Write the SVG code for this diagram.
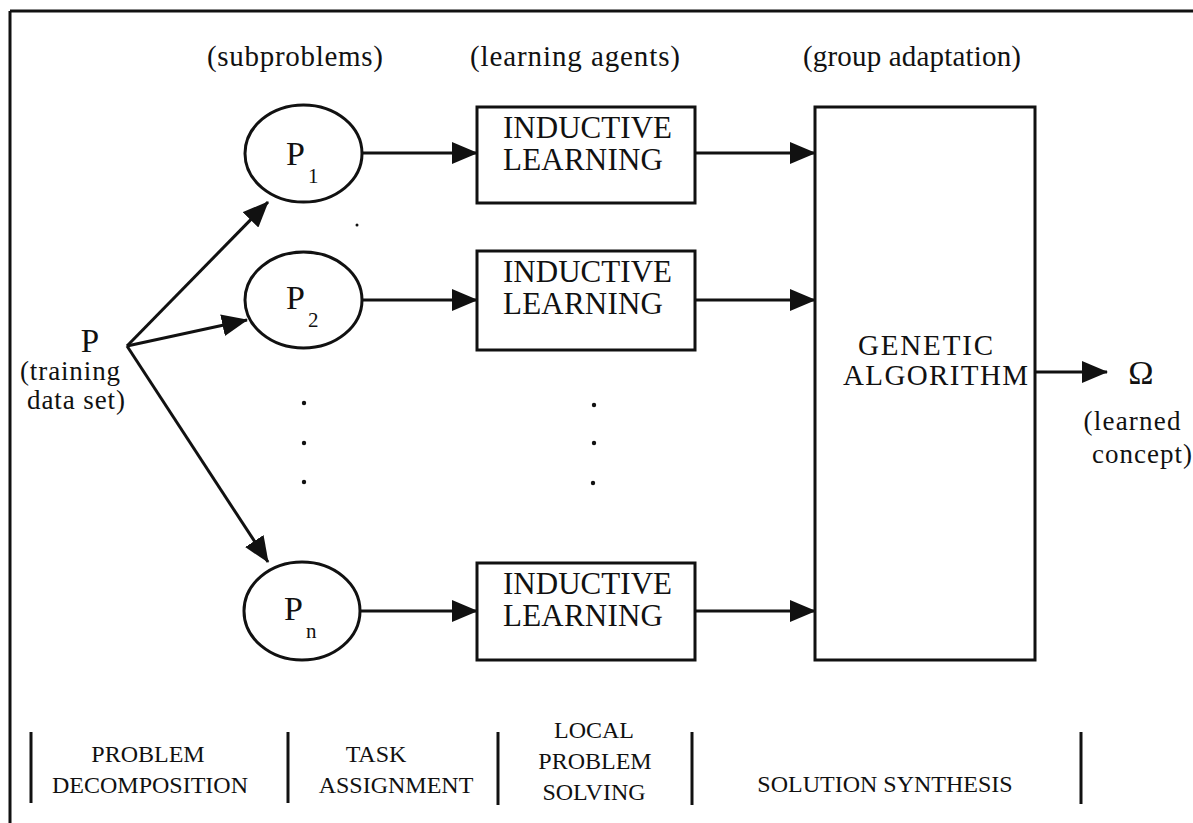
<svg xmlns="http://www.w3.org/2000/svg" width="1193" height="823" viewBox="0 0 1193 823">
<defs>
<style>
.t{font-family:"Liberation Serif","Times New Roman",serif;fill:#111;}
.ln{stroke:#111;stroke-width:3;fill:none;}
.shape{stroke:#111;stroke-width:3;fill:#fff;}
.dot{fill:#111;}
</style>
<marker id="ah" markerUnits="userSpaceOnUse" markerWidth="26" markerHeight="22" viewBox="0 0 26 22" refX="25" refY="11" orient="auto">
<path d="M0,0 L26,11 L0,22 Z" fill="#111"/>
</marker>
</defs>
<rect x="0" y="0" width="1193" height="823" fill="#fff"/>
<g id="frame">
<line class="ln" x1="10" y1="11" x2="1193" y2="11"/>
<line class="ln" x1="10" y1="11" x2="10" y2="823"/>
</g>
<g id="headers">
<text class="t" x="207" y="66" font-size="29" textLength="176">(subproblems)</text>
<text class="t" x="470" y="66" font-size="29" textLength="210">(learning agents)</text>
<text class="t" x="803" y="66" font-size="29" textLength="218">(group adaptation)</text>
</g>
<g id="connectors">
<line class="ln" x1="127" y1="346" x2="268" y2="202" marker-end="url(#ah)"/>
<line class="ln" x1="127" y1="346" x2="247" y2="320" marker-end="url(#ah)"/>
<line class="ln" x1="127" y1="346" x2="268" y2="562" marker-end="url(#ah)"/>
<line class="ln" x1="362" y1="153" x2="477" y2="153" marker-end="url(#ah)"/>
<line class="ln" x1="695" y1="153" x2="815" y2="153" marker-end="url(#ah)"/>
<line class="ln" x1="362" y1="300" x2="477" y2="300" marker-end="url(#ah)"/>
<line class="ln" x1="695" y1="300" x2="815" y2="300" marker-end="url(#ah)"/>
<line class="ln" x1="360" y1="611" x2="477" y2="611" marker-end="url(#ah)"/>
<line class="ln" x1="695" y1="611" x2="815" y2="611" marker-end="url(#ah)"/>
<line class="ln" x1="1035" y1="372" x2="1107" y2="372" marker-end="url(#ah)"/>
</g>
<g id="P">
<text class="t" x="90" y="352" font-size="33" text-anchor="middle">P</text>
<text class="t" x="70" y="380" font-size="27" text-anchor="middle" textLength="100">(training</text>
<text class="t" x="76" y="409" font-size="27" text-anchor="middle" textLength="98">data set)</text>
</g>
<g id="P1">
<ellipse class="shape" cx="303.5" cy="153.5" rx="58.5" ry="48.5"/>
<text class="t" x="286" y="165" font-size="34">P</text>
<text class="t" x="308" y="183" font-size="21">1</text>
</g>
<g id="P2">
<ellipse class="shape" cx="303.5" cy="300" rx="58.5" ry="48"/>
<text class="t" x="286" y="309" font-size="34">P</text>
<text class="t" x="308" y="327" font-size="21">2</text>
</g>
<g id="Pn">
<ellipse class="shape" cx="302" cy="611" rx="58" ry="49"/>
<text class="t" x="284" y="620" font-size="34">P</text>
<text class="t" x="306" y="638" font-size="21">n</text>
</g>
<g id="dots">
<circle class="dot" cx="304" cy="403" r="2.2"/>
<circle class="dot" cx="304" cy="443" r="2.2"/>
<circle class="dot" cx="304" cy="482" r="2.2"/>
<circle class="dot" cx="594" cy="405" r="2.2"/>
<circle class="dot" cx="594" cy="443" r="2.2"/>
<circle class="dot" cx="593" cy="483" r="2.2"/>
<circle class="dot" cx="357" cy="225" r="1.5"/>
</g>
<g id="IL1">
<rect class="shape" x="477" y="107" width="218" height="96"/>
<text class="t" x="503" y="138" font-size="31" textLength="169">INDUCTIVE</text>
<text class="t" x="503" y="170" font-size="31" textLength="160">LEARNING</text>
</g>
<g id="IL2">
<rect class="shape" x="477" y="251" width="218" height="99"/>
<text class="t" x="503" y="282" font-size="31" textLength="169">INDUCTIVE</text>
<text class="t" x="503" y="314" font-size="31" textLength="160">LEARNING</text>
</g>
<g id="IL3">
<rect class="shape" x="477" y="563" width="218" height="97"/>
<text class="t" x="503" y="594" font-size="31" textLength="169">INDUCTIVE</text>
<text class="t" x="503" y="626" font-size="31" textLength="160">LEARNING</text>
</g>
<g id="GA">
<rect class="shape" x="815" y="107" width="220" height="553"/>
<text class="t" x="858" y="355" font-size="29" textLength="135">GENETIC</text>
<text class="t" x="843" y="385" font-size="29" textLength="185">ALGORITHM</text>
</g>
<g id="Omega">
<text class="t" x="1141" y="384" font-size="34" text-anchor="middle">Ω</text>
<text class="t" x="1132" y="430" font-size="27" text-anchor="middle" textLength="97">(learned</text>
<text class="t" x="1142" y="463" font-size="27" text-anchor="middle" textLength="100">concept)</text>
</g>
<g id="phases">
<line class="ln" x1="31" y1="732" x2="31" y2="803"/>
<line class="ln" x1="288" y1="732" x2="288" y2="803"/>
<line class="ln" x1="498" y1="732" x2="498" y2="805"/>
<line class="ln" x1="692" y1="732" x2="692" y2="805"/>
<line class="ln" x1="1081" y1="732" x2="1081" y2="804"/>
<text class="t" x="148" y="762" font-size="24" text-anchor="middle">PROBLEM</text>
<text class="t" x="150" y="793" font-size="24" text-anchor="middle">DECOMPOSITION</text>
<text class="t" x="376" y="762" font-size="24" text-anchor="middle">TASK</text>
<text class="t" x="396" y="793" font-size="24" text-anchor="middle">ASSIGNMENT</text>
<text class="t" x="594" y="738" font-size="24" text-anchor="middle">LOCAL</text>
<text class="t" x="595" y="769" font-size="24" text-anchor="middle">PROBLEM</text>
<text class="t" x="594" y="800" font-size="24" text-anchor="middle">SOLVING</text>
<text class="t" x="885" y="792" font-size="24" text-anchor="middle">SOLUTION SYNTHESIS</text>
</g>
</svg>
